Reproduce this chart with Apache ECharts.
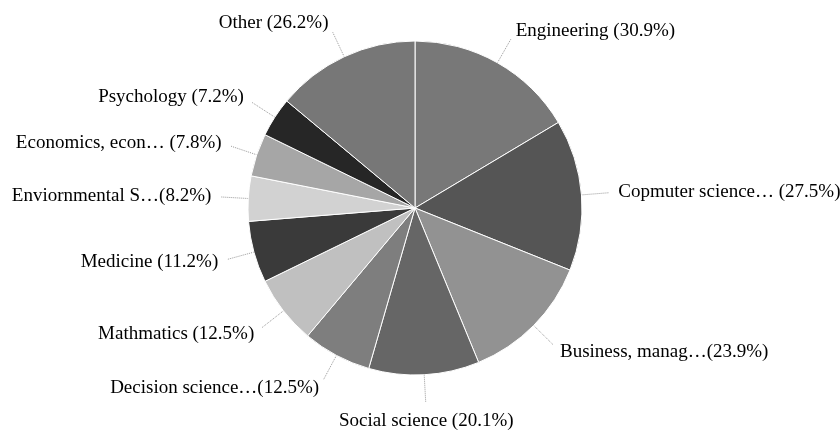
<!DOCTYPE html>
<html>
<head>
<meta charset="utf-8">
<script src="https://cdn.jsdelivr.net/npm/echarts@6/dist/echarts.min.js"></script>
<style>
html, body { margin: 0; padding: 0; background: #fff; }
#main { width: 840px; height: 438px; }
</style>
</head>
<body>
<div id="main"></div>
<script>
// research fields and their share (%) - label text as printed in the figure
var fields = ['Engineering', 'Copmuter science…', 'Business, manag…', 'Social science',
    'Decision science…', 'Mathmatics', 'Medicine', 'Enviornmental S…',
    'Economics, econ…', 'Psychology', 'Other'];
var shares = [30.9, 27.5, 23.9, 20.1, 12.5, 12.5, 11.2, 8.2, 7.8, 7.2, 26.2];
// labels printed without a space before the bracket
var noSpace = ['Business, manag…', 'Decision science…', 'Enviornmental S…'];
var greys = ['#787878', '#555555', '#929292', '#666666', '#7e7e7e', '#c0c0c0',
    '#3a3a3a', '#d2d2d2', '#a6a6a6', '#262626', '#777777'];

var R = 167;       // pie radius
var labelR = 204;  // where the labels sit

var myChart = echarts.init(document.getElementById('main'));

var pieData = [];
for (var i = 0; i < fields.length; i++) {
    pieData.push({ name: fields[i], value: shares[i], itemStyle: { color: greys[i] } });
}

var option = {
    backgroundColor: '#fff',
    animation: false,
    series: [{
        type: 'pie',
        center: [415, 208],
        radius: R,
        startAngle: 90,
        clockwise: true,
        avoidLabelOverlap: false,
        data: pieData,
        itemStyle: {
            borderColor: '#fff',
            borderWidth: 1
        },
        label: {
            show: true,
            position: 'outside',
            fontFamily: 'Liberation Serif',
            fontSize: 19,
            color: '#000',
            formatter: function (p) {
                var gap = noSpace.indexOf(p.name) >= 0 ? '' : ' ';
                return p.name + gap + '(' + p.value + '%)';
            }
        },
        labelLine: {
            show: true,
            length: 27,
            length2: 0,
            lineStyle: { color: '#9a9a9a', width: 1, type: 'dotted' }
        },
        labelLayout: function (p) {
            var pts = p.labelLinePoints;
            if (!pts) return {};
            var x1 = pts[0][0], y1 = pts[0][1];
            var dx = pts[1][0] - x1, dy = pts[1][1] - y1;
            var len = Math.sqrt(dx * dx + dy * dy);
            dx /= len; dy /= len;
            var ax = x1 + dx * (labelR - R);
            var ay = y1 + dy * (labelR - R);
            var out = { labelLinePoints: [pts[0], pts[1]], verticalAlign: 'middle' };
            if (dy > 0 && Math.abs(dx) < 0.3) {
                // the bottom label is centred under its slice
                out.x = ax;
                out.y = ay + dy * p.labelRect.height / 2;
                out.align = 'center';
            } else {
                out.x = ax;
                out.y = ay;
                out.align = dx > 0 ? 'left' : 'right';
            }
            return out;
        }
    }]
};
myChart.setOption(option);
</script>
</body>
</html>
